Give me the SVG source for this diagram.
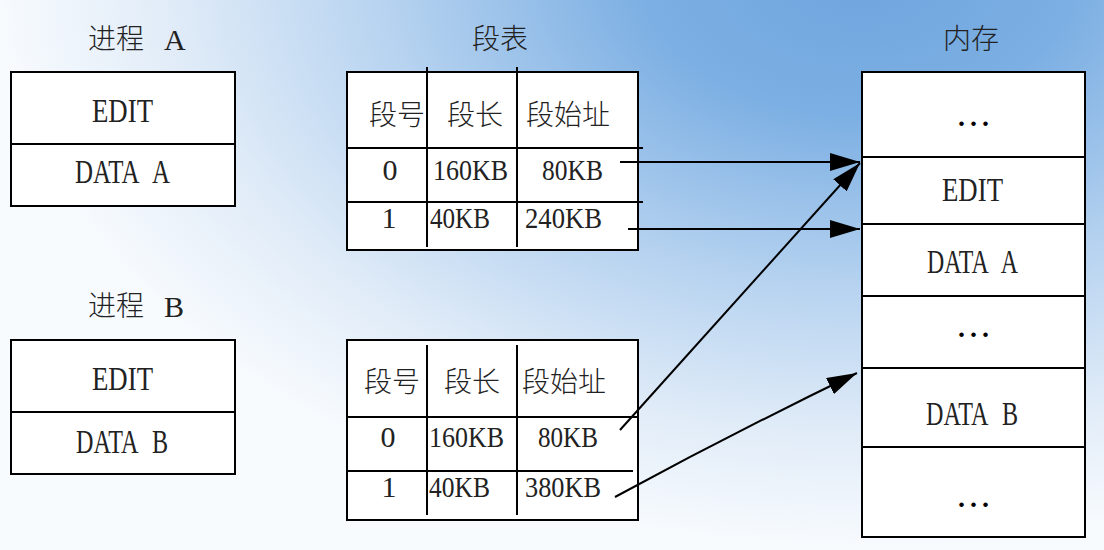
<svg xmlns="http://www.w3.org/2000/svg" width="1104" height="550" viewBox="0 0 1104 550">
<defs>
<radialGradient id="bg" gradientUnits="userSpaceOnUse" cx="0" cy="0" r="580" gradientTransform="translate(860,-30) scale(1.5,1)">
<stop offset="0" stop-color="#6ea5de"/>
<stop offset="0.25" stop-color="#7cafe3"/>
<stop offset="0.55" stop-color="#b7d3f0"/>
<stop offset="0.8" stop-color="#e1ecf8"/>
<stop offset="1" stop-color="#f8fbfe"/>
</radialGradient>
<marker id="ah" markerUnits="userSpaceOnUse" markerWidth="30" markerHeight="18" refX="30" refY="9" orient="auto">
<path d="M0,0 L30,9 L0,18 z" fill="#000"/>
</marker>
<style>
.box{fill:#fff;stroke:#000;stroke-width:2}
.ln{stroke:#000;stroke-width:2;fill:none}
.cjk{font-family:"Noto Sans CJK SC",sans-serif;font-size:28px;font-weight:300;fill:#222}
.lat{font-family:"Liberation Serif",serif;font-size:30px;fill:#222}
.big{font-size:33px;word-spacing:12px}
.ctr{text-anchor:middle}
.dots{font-family:"Liberation Serif",serif;font-size:28px;font-weight:bold;fill:#000;text-anchor:middle;letter-spacing:5px}
.con{stroke:#000;stroke-width:2;fill:none;marker-end:url(#ah)}
</style>
</defs>
<rect x="0" y="0" width="1104" height="550" fill="url(#bg)"/>

<g id="procA">
<text class="cjk" x="88" y="49">进程</text>
<text class="lat" x="164" y="50">A</text>
<rect class="box" x="11" y="72" width="224" height="134"/>
<line class="ln" x1="11" y1="144" x2="235" y2="144"/>
<text class="lat big" x="92" y="122" textLength="61" lengthAdjust="spacingAndGlyphs">EDIT</text>
<text class="lat big" x="75" y="183" textLength="95" lengthAdjust="spacingAndGlyphs">DATA A</text>
</g>

<g id="procB">
<text class="cjk" x="88" y="316">进程</text>
<text class="lat" x="164" y="317">B</text>
<rect class="box" x="11" y="340" width="224" height="134"/>
<line class="ln" x1="11" y1="412" x2="235" y2="412"/>
<text class="lat big" x="92" y="390" textLength="61" lengthAdjust="spacingAndGlyphs">EDIT</text>
<text class="lat big" x="76" y="453" textLength="92" lengthAdjust="spacingAndGlyphs">DATA B</text>
</g>

<g id="segTableA">
<text class="cjk" x="472" y="49">段表</text>
<rect class="box" x="347" y="72" width="291" height="178"/>
<line class="ln" x1="427" y1="67" x2="427" y2="247"/>
<line class="ln" x1="517" y1="67" x2="517" y2="247"/>
<line class="ln" x1="347" y1="148" x2="643" y2="148"/>
<line class="ln" x1="347" y1="202" x2="643" y2="202"/>
<text class="cjk" x="369" y="125">段号</text>
<text class="cjk" x="447" y="125">段长</text>
<text class="cjk" x="526" y="125">段始址</text>
<text class="lat ctr" x="390" y="180">0</text>
<text class="lat" x="433" y="180" textLength="75" lengthAdjust="spacingAndGlyphs">160KB</text>
<text class="lat" x="542" y="180" textLength="61" lengthAdjust="spacingAndGlyphs">80KB</text>
<text class="lat ctr" x="389" y="228">1</text>
<text class="lat" x="430" y="228" textLength="60" lengthAdjust="spacingAndGlyphs">40KB</text>
<text class="lat" x="525" y="228" textLength="77" lengthAdjust="spacingAndGlyphs">240KB</text>
</g>

<g id="segTableB">
<rect class="box" x="347" y="340" width="291" height="180"/>
<line class="ln" x1="427" y1="345" x2="427" y2="515"/>
<line class="ln" x1="517" y1="345" x2="517" y2="515"/>
<line class="ln" x1="347" y1="417" x2="638" y2="417"/>
<line class="ln" x1="347" y1="471" x2="633" y2="471"/>
<text class="cjk" x="364" y="392">段号</text>
<text class="cjk" x="444" y="392">段长</text>
<text class="cjk" x="522" y="392">段始址</text>
<text class="lat ctr" x="388" y="447">0</text>
<text class="lat" x="429" y="447" textLength="75" lengthAdjust="spacingAndGlyphs">160KB</text>
<text class="lat" x="538" y="447" textLength="60" lengthAdjust="spacingAndGlyphs">80KB</text>
<text class="lat ctr" x="389" y="497">1</text>
<text class="lat" x="429" y="497" textLength="61" lengthAdjust="spacingAndGlyphs">40KB</text>
<text class="lat" x="525" y="497" textLength="76" lengthAdjust="spacingAndGlyphs">380KB</text>
</g>

<g id="memory">
<text class="cjk" x="943" y="49">内存</text>
<rect class="box" x="862" y="72" width="223" height="465"/>
<line class="ln" x1="862" y1="157" x2="1085" y2="157"/>
<line class="ln" x1="862" y1="224" x2="1085" y2="224"/>
<line class="ln" x1="862" y1="296" x2="1085" y2="296"/>
<line class="ln" x1="862" y1="368" x2="1085" y2="368"/>
<line class="ln" x1="862" y1="447" x2="1085" y2="447"/>
<text class="dots" x="976" y="126">...</text>
<text class="lat big" x="942" y="201" textLength="61" lengthAdjust="spacingAndGlyphs">EDIT</text>
<text class="lat big" x="927" y="273" textLength="91" lengthAdjust="spacingAndGlyphs">DATA A</text>
<text class="dots" x="976" y="337">...</text>
<text class="lat big" x="926" y="425" textLength="92" lengthAdjust="spacingAndGlyphs">DATA B</text>
<text class="dots" x="976" y="507">...</text>
</g>

<g id="connectors">
<line class="con" x1="620" y1="162" x2="860" y2="162"/>
<line class="con" x1="628" y1="229" x2="860" y2="229"/>
<line class="con" x1="620" y1="430" x2="860" y2="163"/>
<path class="con" d="M615,497 Q735,432 857,373"/>
</g>
</svg>
